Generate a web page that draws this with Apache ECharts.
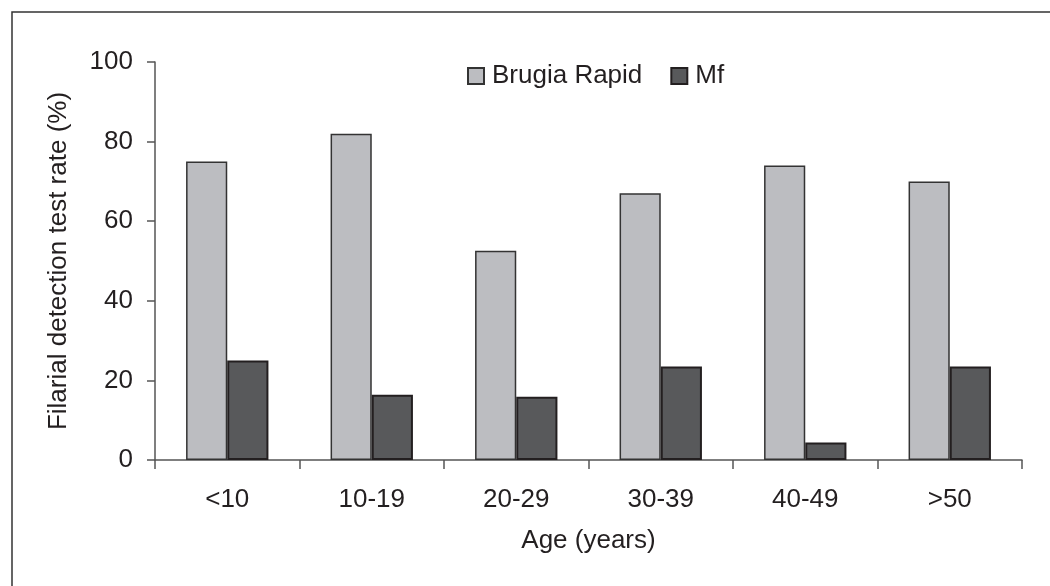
<!DOCTYPE html>
<html>
<head>
<meta charset="utf-8">
<script src="https://cdn.jsdelivr.net/npm/echarts@6/dist/echarts.min.js"></script>
<style>
  html, body { margin: 0; padding: 0; background: #fff; }
  #chart { width: 1050px; height: 586px; }
</style>
</head>
<body>
<div id="chart"></div>
<script>
const ageGroups = ["<10", "10-19", "20-29", "30-39", "40-49", ">50"];
const brugiaRapid = [75, 82, 52.6, 67, 74, 70];
const mf = [25, 16.4, 15.9, 23.5, 4.4, 23.5];
const yTicks = { min: 0, max: 100, interval: 20 };

const font = "Liberation Sans, Arial, sans-serif";
const textColor = "#231f20";
const fontSize = 26;

const chart = echarts.init(document.getElementById("chart"), null, { renderer: "canvas" });

const option = {
  backgroundColor: "#fff",
  animation: false,
  textStyle: { fontFamily: font, color: textColor },
  graphic: [
    {
      type: "rect",
      shape: { x: 12, y: 12, width: 1100, height: 700 },
      style: { fill: "none", stroke: "#333", lineWidth: 1.5 },
      silent: true,
    },
  ],
  legend: {
    left: 462,
    top: 58,
    itemWidth: 16,
    itemHeight: 16,
    itemGap: 28,
    icon: "rect",
    textStyle: { fontSize: fontSize, color: textColor, fontFamily: font, padding: [0, 0, 0, 3] },
    data: ["Brugia Rapid", "Mf"],
  },
  grid: { left: 155, right: 28, top: 62, bottom: 126, containLabel: false },
  xAxis: {
    type: "category",
    data: ageGroups,
    name: "Age (years)",
    nameLocation: "middle",
    nameGap: 68,
    nameTextStyle: { fontSize: fontSize, color: textColor, fontFamily: font },
    axisLine: { lineStyle: { color: "#555", width: 1.5 } },
    axisTick: { show: true, length: 9, lineStyle: { color: "#555", width: 1.5 } },
    axisLabel: { fontSize: fontSize, color: textColor, margin: 27, fontFamily: font },
  },
  yAxis: {
    type: "value",
    min: yTicks.min,
    max: yTicks.max,
    interval: yTicks.interval,
    name: "Filarial detection test rate (%)",
    nameLocation: "middle",
    nameGap: 83,
    nameRotate: 90,
    nameTextStyle: { fontSize: fontSize, color: textColor, fontFamily: font },
    axisLine: { show: true, lineStyle: { color: "#555", width: 1.5 } },
    axisTick: { show: true, length: 8, lineStyle: { color: "#555", width: 1.5 } },
    axisLabel: { fontSize: fontSize, color: textColor, margin: 22, fontFamily: font },
    splitLine: { show: false },
  },
  series: [
    {
      name: "Brugia Rapid",
      type: "bar",
      data: brugiaRapid,
      barWidth: "28.5%",
      barGap: "0%",
      itemStyle: { color: "#bcbdc1", borderColor: "#333", borderWidth: 1.5 },
    },
    {
      name: "Mf",
      type: "bar",
      data: mf,
      barWidth: "28.5%",
      itemStyle: { color: "#58595b", borderColor: "#231f20", borderWidth: 2 },
    },
  ],
};

option && chart.setOption(option);
</script>
</body>
</html>
